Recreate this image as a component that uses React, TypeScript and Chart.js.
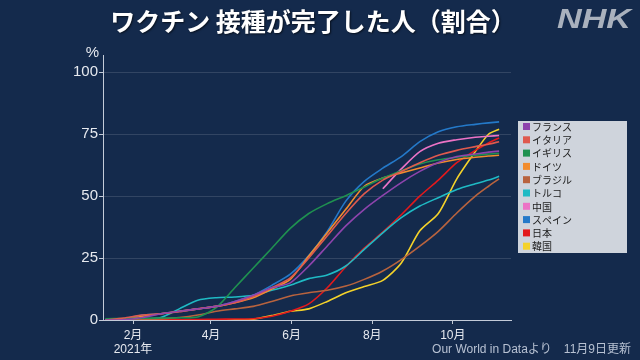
import React, { useEffect, useRef } from "react";
import { Chart, registerables } from "chart.js";

Chart.register(...registerables);

// day of year 2021 (Jan 1 = 0)
const days = [10, 24, 38, 52, 66, 80, 94, 108, 122, 136, 150, 164, 178, 192, 206, 220, 234, 248, 262, 276, 290, 300, 308];

const france = [0, 0.1, 1, 2.5, 3.5, 4.5, 5.5, 7.5, 10, 13, 15, 21.8, 29.9, 38, 44.7, 50.3, 55.5, 60, 63.6, 66, 67, 67.8, 68.2];
const italy = [0, 0.8, 2, 2.5, 3.3, 4.5, 5.5, 7, 9.5, 13, 17, 25, 34, 43, 51, 56.5, 60, 63.5, 66.5, 68.5, 70, 71, 72];
const uk = [0.5, 0.6, 0.7, 0.8, 0.9, 1.2, 5, 13, 21, 29, 37, 43, 47, 50.2, 53.7, 57.3, 60.3, 63, 64.7, 65.7, 66.5, 67, 67.3];
const germany = [0, 0.3, 1.5, 2.5, 3.5, 4.5, 5.5, 7, 9, 12.5, 16.4, 25.8, 35.2, 44.7, 54, 57.3, 59.4, 61.4, 63.4, 64.8, 65.7, 66.2, 66.5];
const brazil = [0, 0, 0.2, 0.5, 1, 2, 3.5, 4.5, 5.5, 7.5, 9.7, 11, 12, 13.7, 16.4, 19.8, 24.4, 29.8, 35.8, 43.2, 50, 54, 57];
const turkey = [0, 0, 0.3, 1, 4.5, 8, 9, 9.3, 10, 12, 14, 16.7, 18.2, 21.8, 28.5, 35.2, 41.3, 46, 49.4, 52.7, 55, 56.5, 58];
const china = [null, null, null, null, null, null, null, null, null, null, null, null, null, null, null, 53, 61, 68, 71.4, 72.8, 73.8, 74.2, 74.5];
const spain = [0, 0.5, 2, 2.5, 3.5, 4.5, 5.5, 7.5, 10, 14, 18.5, 26, 35.8, 48, 56, 61.3, 66, 72, 76, 78, 79, 79.6, 80];
const japan = [0, 0, 0, 0, 0.1, 0.2, 0.3, 0.4, 0.5, 1.5, 3.5, 6.5, 13, 21.5, 29, 35.5, 42.5, 50, 56.5, 63.5, 68.5, 71.5, 73.5];
const korea = [0, 0, 0, 0, 0, 0, 0, 0.1, 0.3, 1.8, 3.5, 4.5, 7.5, 11, 13.5, 16, 23, 36, 43, 57, 68, 75, 77];

const seriesNames = ["フランス", "イタリア", "イギリス", "ドイツ", "ブラジル", "トルコ", "中国", "スペイン", "日本", "韓国"];
const seriesValues = [france, italy, uk, germany, brazil, turkey, china, spain, japan, korea];
const seriesColors = ["#8e44ad", "#df5a4e", "#1f9150", "#f28c2e", "#b8633e", "#1fbac4", "#ec73c6", "#2479c9", "#e3191c", "#f4d22a"];

const monthTickDays = [31, 90, 151, 212, 273];
const monthLabels = ["2月", "4月", "6月", "8月", "10月"];
const yearLabel = "2021年";
const yTickValues = [0, 25, 50, 75, 100];

const titleText = "ワクチン 接種が完了した人（割合）";
const sourceText = "Our World in Dataより　11月9日更新";

const BG = "#142a4c";
const AXIS = "#c3cbd8";
const JP = '"Noto Sans CJK JP", sans-serif';
const LAT = '"Liberation Sans", "Noto Sans CJK JP", sans-serif';

const decor = {
  id: "decor",
  beforeDraw(chart: any) {
    const ctx = chart.ctx;
    ctx.save();
    ctx.fillStyle = BG;
    ctx.fillRect(0, 0, chart.width, chart.height);
    ctx.restore();
  },
  afterDraw(chart: any) {
    const ctx = chart.ctx;
    ctx.save();
    // title
    ctx.font = `bold 25px ${JP}`;
    ctx.textAlign = "center";
    ctx.textBaseline = "middle";
    ctx.shadowColor = "rgba(0,0,0,0.6)";
    ctx.shadowOffsetX = 1;
    ctx.shadowOffsetY = 1;
    ctx.shadowBlur = 2;
    ctx.fillStyle = "#ffffff";
    ctx.fillText(titleText, 313, 21);
    ctx.shadowColor = "transparent";
    // NHK
    ctx.font = `italic bold 28px "Liberation Sans", sans-serif`;
    const w = ctx.measureText("NHK").width;
    ctx.save();
    ctx.translate(557, 20);
    ctx.scale(74 / w, 1);
    ctx.textAlign = "left";
    ctx.fillStyle = "#a9b1bd";
    ctx.fillText("NHK", 0, 0);
    ctx.restore();
    // % unit
    ctx.font = `15px ${LAT}`;
    ctx.textAlign = "right";
    ctx.fillStyle = "#e6e9ef";
    ctx.fillText("%", 99, 53);
    // source
    ctx.font = `12px ${LAT}`;
    ctx.textAlign = "right";
    ctx.fillStyle = "#b7c1d2";
    ctx.fillText(sourceText, 631, 350);
    // legend
    ctx.fillStyle = "#cfd4dc";
    ctx.fillRect(518, 121, 109, 132);
    ctx.font = `10px ${JP}`;
    ctx.textAlign = "left";
    chart.data.datasets.forEach((ds: any, i: number) => {
      const y = 126.5 + i * 13.3;
      ctx.fillStyle = ds.borderColor;
      ctx.fillRect(523, y - 3.5, 7, 7);
      ctx.fillStyle = "#1c1c1c";
      ctx.fillText(ds.label, 532, y + 0.5);
    });
    ctx.restore();
  },
};

export default function App() {
  const ref = useRef<HTMLCanvasElement | null>(null);
  useEffect(() => {
    document.body.style.margin = "0";
    document.body.style.background = BG;
    const canvas = ref.current!;
    const chart = new Chart(canvas, {
      type: "line",
      data: {
        datasets: seriesNames.map((name, i) => ({
          label: name,
          data: days.map((d, j) => ({ x: d, y: seriesValues[i][j] })),
          borderColor: seriesColors[i],
          backgroundColor: seriesColors[i],
          borderWidth: 1.6,
          pointRadius: 0,
          tension: 0.25,
          fill: false,
        })),
      },
      options: {
        responsive: false,
        animation: false,
        devicePixelRatio: 1,
        layout: { padding: { left: 0, right: 129, top: 55, bottom: 0 } },
        plugins: { legend: { display: false }, tooltip: { enabled: false } },
        scales: {
          x: {
            type: "linear",
            min: 8.3,
            max: 317,
            afterBuildTicks: (s: any) => {
              s.ticks = monthTickDays.map((v) => ({ value: v }));
            },
            afterFit: (s: any) => {
              s.height = 40;
            },
            ticks: {
              autoSkip: false,
              maxRotation: 0,
              padding: 4,
              color: "#e6e9ef",
              font: { size: 12, family: LAT },
              callback: (v: any, i: number) => (i === 0 ? [monthLabels[0], yearLabel] : monthLabels[i]),
            },
            grid: { display: true, drawOnChartArea: false, drawTicks: true, tickLength: 4, tickColor: AXIS },
            border: { display: true, color: AXIS, width: 1 },
          },
          y: {
            min: 0,
            max: 107,
            afterBuildTicks: (s: any) => {
              s.ticks = yTickValues.map((v) => ({ value: v }));
            },
            afterFit: (s: any) => {
              s.width = 103;
            },
            ticks: { color: "#e6e9ef", padding: 1, font: { size: 15, family: LAT } },
            grid: { color: "rgba(255,255,255,0.13)", tickColor: AXIS, tickLength: 4, lineWidth: 1 },
            border: { display: true, color: AXIS, width: 1 },
          },
        },
      },
      plugins: [decor],
    } as any);
    return () => chart.destroy();
  }, []);
  return <canvas ref={ref} width={640} height={360} style={{ display: "block" }} />;
}
